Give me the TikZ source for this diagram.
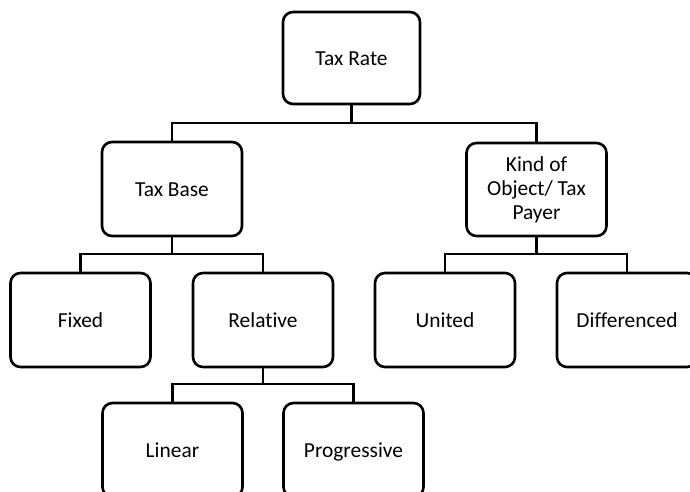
\documentclass[tikz,border=0pt]{standalone}
\usepackage{fontspec}
\setmainfont{Carlito}[Ligatures={NoCommon}]
\begin{document}
\begin{tikzpicture}[x=1pt,y=-1pt,
  box/.style={draw=black, line width=2.6pt, rounded corners=10pt, minimum width=140pt, minimum height=94pt, inner sep=0pt, align=center, font=\fontsize{21.4pt}{24pt}\selectfont},
  one/.style={box, text height=16pt, text depth=1pt},
  conn/.style={draw=black, line width=2.6pt}]
\useasboundingbox (0,0) rectangle (690,492);
\clip (0,0) rectangle (690,492);
\fill[white] (0,0) rectangle (690,492);
\node[one, minimum width=137pt, minimum height=92pt] (tr) at (351.5,58) {Tax Rate};
\node[one] (tb) at (172,189) {Tax Base};
\node[box, minimum height=93pt] (ko) at (536.5,189.5) {Kind of\\Object/ Tax\\Payer};
\node[one] (fx) at (80.5,320) {Fixed};
\node[one] (rel) at (263,320) {Relative};
\node[one] (un) at (445,320) {United};
\node[one] (dif) at (627,320) {Differenced};
\node[one] (lin) at (172.5,450) {Linear};
\node[one] (prog) at (353.5,450) {Progressive};
\coordinate (b1) at (351.5,123);
\coordinate (b2) at (172,254);
\coordinate (b3) at (536.5,254);
\coordinate (b4) at (263,384);
\draw[conn] (tr.south) -- (b1);
\draw[conn] (tb.north) |- (b1) -| (ko.north);
\draw[conn] (tb.south) -- (b2);
\draw[conn] (fx.north) |- (b2) -| (rel.north);
\draw[conn] (ko.south) -- (b3);
\draw[conn] (un.north) |- (b3) -| (dif.north);
\draw[conn] (rel.south) -- (b4);
\draw[conn] (lin.north) |- (b4) -| (prog.north);
\end{tikzpicture}
\end{document}
